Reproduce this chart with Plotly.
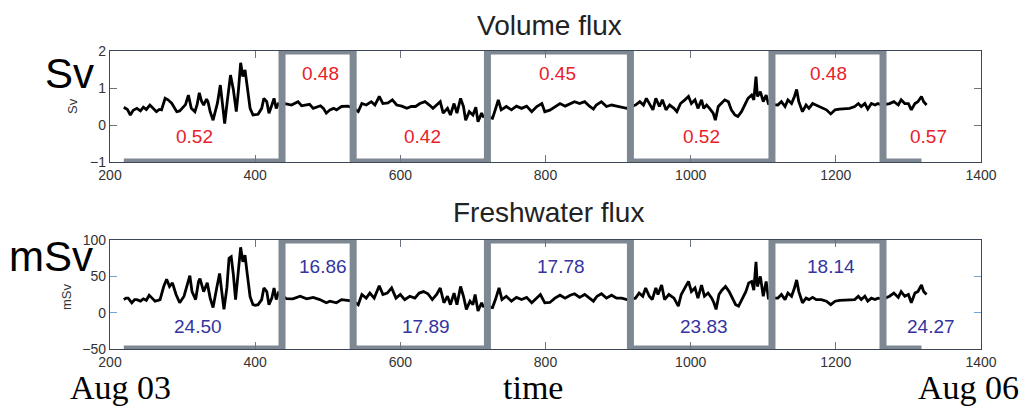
import plotly.graph_objects as go

# ---------------- data ----------------
vol_time = [219,224,228,232,237,242,246,250,255,260,264,268,271,276,280,285,289,292,296,299,
            304,308,312,317,320,323,326,329,333,335,338,342,345,348,352,355,358,361,363,366,
            370,374,377,380,383,386,389,393,397,400,404,409,412,416,419,423,426,429,432,441,
            450,459,464,469,475,480,485,490,494,498,503,508,512,519,528,535,542,547,553,560,
            565,571,576,583,589,595,602,609,615,621,627,634,640,645,650,655,659,665,669,674,
            678,683,687,690,695,700,704,707,712,714,721,727,730,735,739,746,753,760,767,774,
            781,788,795,799,806,813,820,827,834,840,847,854,861,866,870,877,884,891,898,905,
            912,918,924,930,935,939,944,948,952,957,961,966,971,977,981,986,992,997,1001,1006,
            1010,1015,1018,1022,1026,1031,1034,1038,1042,1047,1052,1056,1061,1065,1070,1075,1079,1084,1087,1090,
            1092,1096,1100,1104,1107,1113,1120,1125,1130,1134,1139,1143,1146,1149,1154,1159,1163,1168,1173,1180,
            1187,1193,1199,1205,1212,1219,1226,1231,1235,1240,1244,1249,1254,1258,1263,1268,1274,1280,1286,1290,
            1295,1300,1304,1309,1313,1318,1321,1325]
vol_flux = [0.48,0.42,0.27,0.40,0.45,0.38,0.48,0.42,0.54,0.45,0.36,0.42,0.41,0.72,0.68,0.59,0.45,0.36,0.38,0.45,
            0.55,0.81,0.45,0.36,0.55,0.87,0.65,0.54,0.70,0.63,0.36,0.13,0.35,0.59,1.08,0.50,0.04,0.55,0.95,1.35,
            0.95,0.36,0.95,1.68,1.31,1.49,1.05,0.45,0.27,0.28,0.29,0.45,0.72,0.63,0.32,0.54,0.72,0.45,0.58,0.58,
            0.54,0.63,0.52,0.54,0.56,0.45,0.48,0.52,0.45,0.32,0.41,0.45,0.41,0.50,0.51,0.46,0.36,0.58,0.54,0.63,
            0.54,0.77,0.58,0.60,0.68,0.54,0.51,0.45,0.50,0.50,0.58,0.63,0.54,0.45,0.54,0.63,0.32,0.45,0.27,0.58,
            0.32,0.72,0.50,0.13,0.36,0.27,0.48,0.09,0.32,0.23,0.22,0.18,0.36,0.68,0.41,0.50,0.41,0.51,0.45,0.51,
            0.36,0.50,0.58,0.36,0.40,0.50,0.58,0.51,0.58,0.63,0.58,0.63,0.50,0.43,0.54,0.63,0.50,0.54,0.51,0.48,
            0.45,0.50,0.54,0.63,0.54,0.72,0.54,0.41,0.72,0.50,0.68,0.41,0.54,0.45,0.36,0.58,0.68,0.77,0.58,0.68,
            0.45,0.68,0.45,0.54,0.45,0.32,0.13,0.50,0.58,0.68,0.63,0.41,0.27,0.23,0.36,0.54,0.72,0.81,0.68,1.31,
            0.77,0.90,0.63,0.81,0.58,0.55,0.54,0.63,0.50,0.68,0.58,0.77,0.96,0.63,0.36,0.54,0.45,0.58,0.54,0.48,
            0.41,0.30,0.41,0.43,0.45,0.45,0.50,0.58,0.50,0.58,0.43,0.58,0.54,0.58,0.54,0.56,0.58,0.63,0.54,0.68,
            0.58,0.58,0.41,0.58,0.63,0.77,0.63,0.54]

fw_time = [219,222,225,230,234,237,242,246,250,254,258,262,266,269,274,278,282,286,291,296,
           302,307,310,313,318,322,324,329,334,338,342,347,351,354,357,361,364,367,370,373,
           377,380,383,386,389,393,397,400,404,409,412,416,419,423,426,429,432,443,452,462,
           471,480,489,498,503,512,519,528,535,542,547,553,558,564,571,576,582,588,594,600,
           606,613,620,626,632,638,644,650,655,660,665,669,674,678,683,687,691,696,700,703,
           707,712,714,721,727,731,736,740,746,753,760,767,774,781,788,793,799,806,813,820,
           827,834,840,847,854,861,866,871,877,884,891,898,905,912,918,924,929,934,938,943,
           947,952,955,960,964,970,977,983,987,992,997,1001,1006,1010,1015,1019,1024,1029,1032,1035,
           1039,1043,1048,1053,1057,1062,1066,1071,1076,1080,1084,1087,1090,1092,1096,1100,1104,1107,1113,1120,
           1125,1130,1134,1139,1143,1146,1149,1154,1159,1163,1168,1173,1180,1187,1193,1199,1205,1212,1219,1226,
           1231,1235,1240,1244,1249,1254,1258,1263,1268,1274,1280,1286,1290,1295,1300,1304,1309,1313,1318,1321,
           1325]
fw_flux = [18,20,20,13.6,18,18,16,19,17,24,20,15.8,17,18,36,46,36,41,25,13.6,
           22.6,43,51,29,18,43,47,29,41,20,7,34,54,29,4.5,34,75,77,52,18,
           61,90,70,79,54,22,11,10,11,18,34,29,11,20,34,18,27,19.4,19,22.6,
           19,21,18,13.6,15.8,13.6,18,17,16,11,25,20,27,20,37,25,27,34,20,25,
           18,22.6,20,27,29,26,18,25,34,13.6,22.6,11,27,11,36,22.6,4.5,15.8,11,25,
           2.3,13.6,9,8,7,18,34,18,22.6,15.8,21,18,21,13.6,20,25,13.6,14,20,24,
           20,24,26,21,25,20,15.8,22.6,26,20,24,20,20,18,19,20,27,22.6,34,22.6,
           18,34,25,38,18,25,20,9,25,34,43,29,34,20,38,22.6,27,20,13.6,4.5,
           25,31,36,29,20,11,9,20,29,41,43,31,70,36,50,22.6,43,20,20,20,
           25,18,27,22.6,34,45,29,13.6,20,18,21,18,18,15.8,11,15.8,17,17,17,18,
           22.6,18,22.6,15.8,20,18,20,19,20,22.6,27,21,29,22.6,25,13.6,27,29,38,29,
           25]

# gray segment boundaries (alternating low / high)
seg_edges = [219, 437, 535, 720, 917, 1112, 1265, 1318]

vol_means = ["0.52", "0.48", "0.42", "0.45", "0.52", "0.48", "0.57"]
fw_means = ["24.50", "16.86", "17.89", "17.78", "23.83", "18.14", "24.27"]
mean_x = [317, 490, 631, 817, 1015, 1190, 1327]

x_ticks = [200, 400, 600, 800, 1000, 1200, 1400]

# ---------------- helpers ----------------
# The page body adds an 8 px margin, so the figure is drawn 8 px smaller
# and all window-pixel positions are shifted by that amount.
OFF = 8
W, H = 1028 - OFF, 406 - OFF

def fx(px):
    return (px - OFF) / W

def fy(py):
    return 1 - (py - OFF) / H

def square_wave(edges, lo, hi):
    xs, ys = [], []
    for i in range(len(edges) - 1):
        lvl = lo if i % 2 == 0 else hi
        xs += [edges[i], edges[i + 1]]
        ys += [lvl, lvl]
    return xs, ys

GRAY = "#7e8893"
SANS = "Liberation Sans, Arial, Helvetica, sans-serif"
SERIF = "Liberation Serif, Times New Roman, serif"

fig = go.Figure()

# top panel
fig.add_trace(go.Scatter(x=vol_time, y=vol_flux, mode="lines",
                         line=dict(color="black", width=2.8), xaxis="x", yaxis="y",
                         showlegend=False, hoverinfo="skip"))
sx, sy = square_wave(seg_edges, -1, 2)
fig.add_trace(go.Scatter(x=sx, y=sy, mode="lines",
                         line=dict(color=GRAY, width=7), xaxis="x", yaxis="y",
                         showlegend=False, hoverinfo="skip"))
# bottom panel
fig.add_trace(go.Scatter(x=fw_time, y=fw_flux, mode="lines",
                         line=dict(color="black", width=2.8), xaxis="x2", yaxis="y2",
                         showlegend=False, hoverinfo="skip"))
sx2, sy2 = square_wave(seg_edges, -50, 100)
fig.add_trace(go.Scatter(x=sx2, y=sy2, mode="lines",
                         line=dict(color=GRAY, width=7), xaxis="x2", yaxis="y2",
                         showlegend=False, hoverinfo="skip"))

xdom = [fx(110), fx(981)]
axis_common = dict(showgrid=False, zeroline=False, showline=True, mirror="ticks",
                   automargin=False,
                   linecolor="#3b4756", linewidth=1.3, ticks="inside", ticklen=7,
                   tickwidth=1, tickcolor="#6b7480",
                   tickfont=dict(family=SANS, size=14, color="#333333"))

fig.update_layout(
    template="none",
    width=W, height=H, autosize=False,
    margin=dict(l=0, r=0, t=0, b=0, pad=0),
    paper_bgcolor="white", plot_bgcolor="white",
    xaxis=dict(domain=xdom, range=[200, 1400], tickvals=x_ticks, anchor="y", **axis_common),
    yaxis=dict(domain=[fy(162), fy(51)], range=[-1, 2],
               tickvals=[-1, 0, 1, 2], anchor="x", **axis_common),
    xaxis2=dict(domain=xdom, range=[200, 1400], tickvals=x_ticks, anchor="y2", **axis_common),
    yaxis2=dict(domain=[fy(349), fy(240)], range=[-50, 100],
                tickvals=[-50, 0, 50, 100], anchor="x2", **axis_common),
)
fig.layout.yaxis2.tickcolor = "#6fa8d8"

ann = []
for i, (lab, xv) in enumerate(zip(vol_means, mean_x)):
    ann.append(dict(x=xv, y=(1.38 if i % 2 else -0.32), xref="x", yref="y", text=lab,
                    showarrow=False, font=dict(family=SANS, size=19, color="#e8212b")))
for i, (lab, xv) in enumerate(zip(fw_means, mean_x)):
    ann.append(dict(x=xv + 4, y=(64 if i % 2 else -19), xref="x2", yref="y2", text=lab,
                    showarrow=False, font=dict(family=SANS, size=19, color="#3434a0")))

def pann(text, px, py, size, family, color="black", angle=0):
    return dict(x=fx(px), y=fy(py), xref="paper", yref="paper", text=text,
                showarrow=False, textangle=angle, xanchor="center", yanchor="middle",
                font=dict(family=family, size=size, color=color))

ann += [
    pann("Volume flux", 549, 26, 28, SANS, "#222222"),
    pann("Freshwater flux", 548, 213, 28, SANS, "#222222"),
    pann("Sv", 69, 73, 42, SANS),
    pann("mSv", 51, 256, 42, SANS),
    pann("Sv", 72, 106, 13, SANS, "#333333", -90),
    pann("mSv", 66, 297, 13, SANS, "#333333", -90),
    pann("Aug 03", 120, 387, 34, SERIF),
    pann("time", 533, 387, 34, SERIF),
    pann("Aug 06", 968, 387, 34, SERIF),
]
fig.update_layout(annotations=ann)

fig.write_html("out.html")
